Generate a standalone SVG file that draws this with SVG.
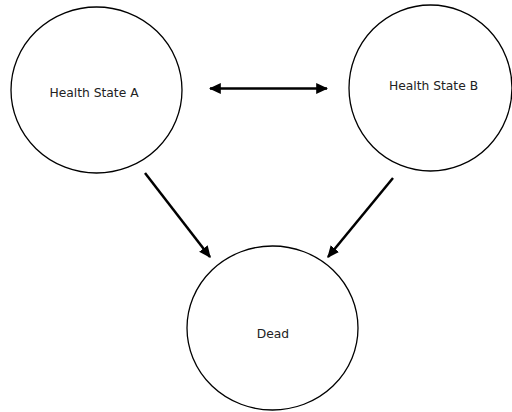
<svg xmlns="http://www.w3.org/2000/svg" width="512" height="412" viewBox="0 0 512 412">
<style>
.node{fill:#fff;stroke:#000;stroke-width:1.3}
.lbl{font-family:"DejaVu Sans","Liberation Sans",sans-serif;font-size:12.3px;fill:#222;text-anchor:middle}
.conn{stroke:#000;stroke-width:2.5;fill:none}
</style>
<defs>
<marker id="ah" markerUnits="userSpaceOnUse" markerWidth="12" markerHeight="12" viewBox="0 0 10 10" refX="9" refY="5" orient="auto-start-reverse">
<path d="M0,0.5 L10,5 L0,9.5 z" fill="#000"/>
</marker>
</defs>
<rect width="512" height="412" fill="#fff"/>
<g id="stateA"><ellipse class="node" cx="96.5" cy="90" rx="85.5" ry="83"/><text class="lbl" x="94" y="96.5">Health State A</text></g>
<g id="stateB"><ellipse class="node" cx="430.5" cy="88" rx="81.5" ry="83"/><text class="lbl" x="433.5" y="89.5">Health State B</text></g>
<g id="dead"><ellipse class="node" cx="272.5" cy="328" rx="85.5" ry="82"/><text class="lbl" x="273" y="338">Dead</text></g>
<g id="connectors">
<line class="conn" x1="210" y1="88.5" x2="327" y2="88.5" marker-start="url(#ah)" marker-end="url(#ah)"/>
<line class="conn" x1="145" y1="173" x2="210" y2="257" marker-end="url(#ah)"/>
<line class="conn" x1="393" y1="178" x2="328" y2="257" marker-end="url(#ah)"/>
</g>
</svg>
